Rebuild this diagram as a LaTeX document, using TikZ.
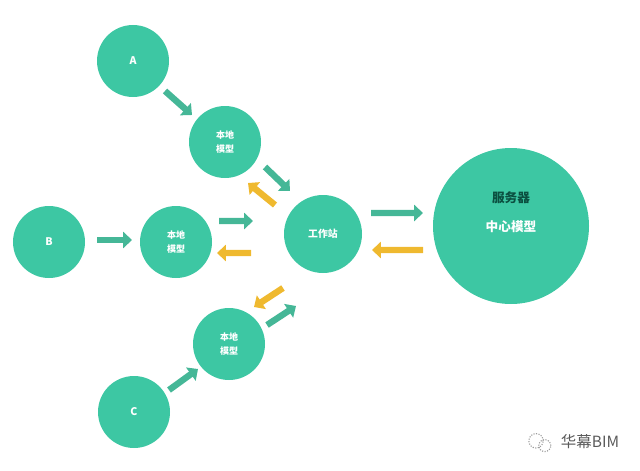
\documentclass[tikz,border=0pt]{standalone}
\usepackage{fontspec}
\setmainfont{Noto Sans CJK SC}
\usetikzlibrary{arrows.meta, positioning}
\definecolor{bimteal}{HTML}{3DC7A3}
\definecolor{bimgreen}{HTML}{45B797}
\definecolor{bimamber}{HTML}{EFB92F}
\definecolor{bimdark}{HTML}{0B4F40}
\definecolor{bimmuted}{HTML}{5A5A5A}

\begin{document}
\begin{tikzpicture}[
    on grid,
    disc/.style={circle,fill=bimteal,inner sep=0pt,align=center,text=white},
    user/.style={disc,minimum size=1.8cm,font=\fontsize{7.5}{9}\selectfont\bfseries},
    localmodel/.style={disc,minimum size=1.8cm,font=\fontsize{6.4}{10.5}\selectfont\bfseries},
    flow/.style={-{Triangle[length=0.22cm,width=0.4cm]},line width=0.16cm},
    pushflow/.style={flow,bimgreen},
    pullflow/.style={flow,bimamber},
    wechat/.style={circle,draw=bimmuted!60,densely dotted,thick,inner sep=0pt},
  ]
    \useasboundingbox (0,0) rectangle (16,-11.75);

    \node[disc, minimum size=1.95cm, font=\fontsize{7}{9}\selectfont\bfseries] (station) at (8.075,-5.85) {工作站};
    \node[disc, minimum size=3.9cm, above right=0.2cm and 4.7cm of station] (server) {};
    \node[font=\fontsize{9}{11}\selectfont\bfseries, text=bimdark, above=0.72cm of server] (serverlabel) {服务器};
    \node[font=\fontsize{9}{11}\selectfont\bfseries, text=white, below=0.02cm of server] (centermodel) {中心模型};

    \node[localmodel, above left=2.3cm and 2.45cm of station] (modelA) {本地\\模型};
    \node[localmodel, below left=0.2cm and 3.675cm of station] (modelB) {本地\\模型};
    \node[localmodel, below left=2.75cm and 2.35cm of station] (modelC) {本地\\模型};

    \node[user, above left=2.025cm and 2.3cm of modelA] (userA) {A};
    \node[user, left=3.175cm of modelB] (userB) {B};
    \node[user, below left=1.7cm and 2.375cm of modelC] (userC) {C};

    \draw[pushflow] ([shift={(0.8,-0.75)}]userA.center) -- ([shift={(-0.825,0.675)}]modelA.center);
    \draw[pushflow] ([shift={(1.2,0.05)}]userB.center) -- ([shift={(-1.1,0.05)}]modelB.center);
    \draw[pushflow] ([shift={(0.875,0.55)}]userC.center) -- ([shift={(-0.775,-0.625)}]modelC.center);

    \draw[pushflow] ([shift={(1,-0.625)}]modelA.center) -- ([shift={(-0.825,1.075)}]station.center);
    \draw[pullflow] ([shift={(-1.2,0.725)}]station.center) -- ([shift={(0.575,-1.025)}]modelA.center);
    \draw[pushflow] ([shift={(1.075,0.525)}]modelB.center) -- ([shift={(-1.75,0.325)}]station.center);
    \draw[pullflow] ([shift={(-1.8,-0.475)}]station.center) -- ([shift={(1.025,-0.275)}]modelB.center);
    \draw[pushflow] ([shift={(0.95,0.475)}]modelC.center) -- ([shift={(-0.675,-1.8)}]station.center);
    \draw[pullflow] ([shift={(-1,-1.35)}]station.center) -- ([shift={(0.625,0.925)}]modelC.center);

    \draw[pushflow] ([shift={(1.2,0.525)}]station.center) -- ([shift={(-2.2,0.325)}]server.center);
    \draw[pullflow] ([shift={(-2.2,-0.6)}]server.center) -- ([shift={(1.225,-0.4)}]station.center);

    % watermark
    \node[wechat, minimum size=0.36cm] (iconbig) at (13.4,-11.02) {};
    \node[wechat, minimum size=0.3cm, below right=0.12cm and 0.22cm of iconbig] (iconsmall) {};
    \node[font=\fontsize{11}{13}\selectfont, text=bimmuted] (mark) at (14.75,-11.05) {华幕BIM};
  \end{tikzpicture}
\end{document}
